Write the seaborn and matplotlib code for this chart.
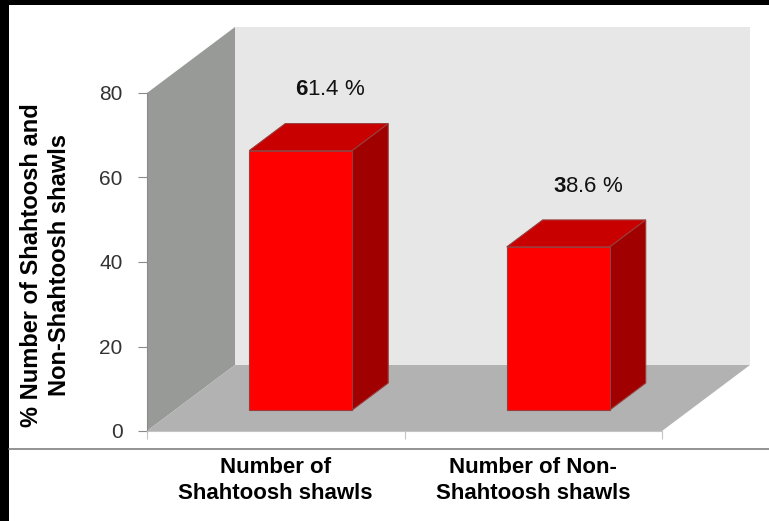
import matplotlib
matplotlib.use("Agg")
import matplotlib.pyplot as plt
from matplotlib.patches import Polygon, Rectangle
from matplotlib.lines import Line2D
import pandas as pd
import seaborn as sns

# ---- data ----
categories = ["Number of\nShahtoosh shawls", "Number of Non-\nShahtoosh shawls"]
percentages = [61.4, 38.6]
y_ticks = [0, 20, 40, 60, 80]
y_label = "% Number of Shahtoosh and\nNon-Shahtoosh shawls"

sns.set_theme(style="white")
plt.rcParams["font.family"] = ["Liberation Sans", "DejaVu Sans"]
plt.rcParams["mathtext.fontset"] = "custom"
plt.rcParams["mathtext.rm"] = "Liberation Sans"
plt.rcParams["mathtext.bf"] = "Liberation Sans:bold"

W, H, DPI = 769, 521, 100
fig = plt.figure(figsize=(W / DPI, H / DPI), dpi=DPI, facecolor="white")

# front plane of the plot box (pixels)
left_px, right_px, bottom_px, top_px = 147, 662, 431, 93
ax = fig.add_axes([left_px / W, 1 - bottom_px / H,
                   (right_px - left_px) / W, (bottom_px - top_px) / H])
ax.set_facecolor("none")

df = pd.DataFrame({"category": categories, "value": percentages})
sns.barplot(data=df, x="category", y="value", ax=ax, color="#ff0000",
            saturation=1, width=0.4, edgecolor="#9a3c3c", linewidth=0.8,
            zorder=6)
bars = list(ax.patches)

XMIN, XMAX, YMAX = -0.5, 1.5, 80
ax.set_xlim(XMIN, XMAX)
ax.set_ylim(0, YMAX)

# depth direction of the 3-D box, in data units per full depth
px_per_x = (right_px - left_px) / (XMAX - XMIN)
px_per_y = (bottom_px - top_px) / YMAX
DX = 88 / px_per_x
DY = 66 / px_per_y
BAR_SHIFT = -3 / px_per_x


def proj(x, y, d):
    return (x + d * DX, y + d * DY)


def face(points, color, z, ec="none", lw=0):
    ax.add_patch(Polygon(points, closed=True, facecolor=color, edgecolor=ec,
                         linewidth=lw, zorder=z, clip_on=False))


# walls and floor
face([proj(XMIN, 0, 1), proj(XMAX, 0, 1), proj(XMAX, YMAX, 1), proj(XMIN, YMAX, 1)],
     "#e7e7e7", 0)
face([proj(XMIN, 0, 0), proj(XMIN, YMAX, 0), proj(XMIN, YMAX, 1), proj(XMIN, 0, 1)],
     "#989a98", 1)
face([proj(XMIN, 0, 0), proj(XMAX, 0, 0), proj(XMAX, 0, 1), proj(XMIN, 0, 1)],
     "#b2b2b2", 1)

# 3-D boxes for the bars
d0, d1 = 0.318, 0.727
for bar, val in zip(bars, percentages):
    x0, w, h = bar.get_x() + BAR_SHIFT, bar.get_width(), bar.get_height()
    bar.set_x(x0 + d0 * DX)
    bar.set_y(d0 * DY)
    bar.set_clip_on(False)
    face([proj(x0, h, d0), proj(x0 + w, h, d0), proj(x0 + w, h, d1), proj(x0, h, d1)],
         "#c80000", 5, "#9a3c3c", 0.8)
    face([proj(x0 + w, 0, d0), proj(x0 + w, h, d0), proj(x0 + w, h, d1), proj(x0 + w, 0, d1)],
         "#a00000", 5, "#9a3c3c", 0.8)
    txt = f"{val:.1f} %"
    label = r"$\mathbf{" + txt[0] + "}$" + txt[1:]
    ax.annotate(label, xy=proj(x0 + w / 2, h, (d0 + d1) / 2),
                xytext=(8.5, 34), textcoords="offset points",
                ha="center", va="center", fontsize=16, color="#111111",
                annotation_clip=False, zorder=8)

# axes styling
for s in ["top", "right"]:
    ax.spines[s].set_visible(False)
ax.spines["left"].set_color("#8a8a8a")
ax.spines["left"].set_linewidth(0.8)
ax.spines["bottom"].set_color("#c4c4c4")
ax.spines["bottom"].set_linewidth(0.8)
for sp in ax.spines.values():
    sp.set_zorder(3)

ax.set_yticks(y_ticks)
ax.set_yticklabels([str(t) for t in y_ticks])
ax.tick_params(axis="y", left=True, length=6.5, width=0.8, color="#8a8a8a",
               pad=11, labelsize=15, labelcolor="#333333")

ax.set_xticks([XMIN, 0.5, XMAX])
ax.set_xticklabels([])
ax.set_xticks([0, 1], minor=True)
ax.set_xticklabels(categories, minor=True, fontweight="bold", fontsize=16,
                   color="#000000", linespacing=1.3)
ax.tick_params(axis="x", which="major", bottom=True, length=5.5, width=0.8,
               color="#c4c4c4")
ax.tick_params(axis="x", which="minor", bottom=True, length=0, pad=19)
ax.set_xlabel("")

ax.set_ylabel(y_label, fontsize=17, fontweight="bold", color="#000000",
              linespacing=1.25)
ax.yaxis.set_label_coords(-0.148, 0.49)

# frame decorations
fig.add_artist(Line2D([9 / W, 1], [1 - 449 / H, 1 - 449 / H], color="#808080",
                      linewidth=1.2))
fig.add_artist(Rectangle((0, 0), 9 / W, 1, facecolor="black", edgecolor="none"))
fig.add_artist(Rectangle((0, 1 - 5 / H), 1, 5 / H, facecolor="black", edgecolor="none"))

fig.savefig("out.png", dpi=DPI, facecolor="white")
